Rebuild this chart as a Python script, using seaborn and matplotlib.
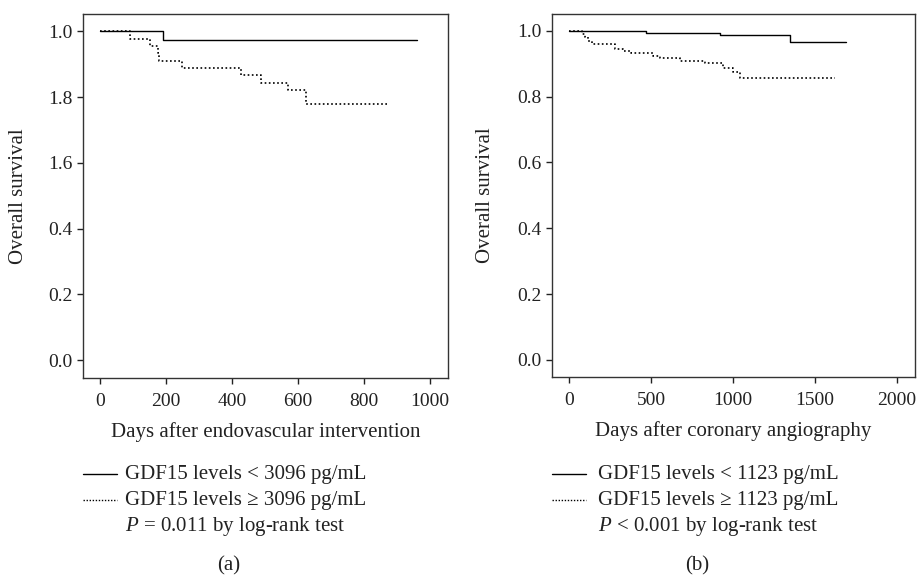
import matplotlib
matplotlib.use("Agg")
import matplotlib.pyplot as plt
import seaborn as sns
import pandas as pd
from matplotlib.lines import Line2D

# ---------------- data ----------------
# Panel (a): days after endovascular intervention
a_low_days = [0, 190, 962]
a_low_surv = [1.0, 0.975, 0.975]
a_high_days = [0, 90, 152, 175, 180, 249, 427, 488, 569, 623, 876]
a_high_surv = [1.0, 0.978, 0.956, 0.933, 0.911, 0.889, 0.866, 0.844, 0.821, 0.780, 0.780]

# Panel (b): days after coronary angiography
b_low_days = [0, 117, 467, 920, 1346, 1692]
b_low_surv = [1.0, 0.998, 0.994, 0.987, 0.966, 0.966]
b_high_days = [0, 75, 95, 115, 136, 279, 330, 380, 512, 553, 676, 829, 940, 1000, 1042, 1623]
b_high_surv = [1.0, 0.99, 0.98, 0.97, 0.960, 0.946, 0.938, 0.934, 0.924, 0.917, 0.909,
               0.903, 0.887, 0.875, 0.856, 0.856]

a_yticks = [0.0, 0.2, 0.4, 0.6, 0.8, 1.0]
a_yticklabels = ["0.0", "0.2", "0.4", "1.6", "1.8", "1.0"]
b_yticks = [0.0, 0.2, 0.4, 0.6, 0.8, 1.0]
b_yticklabels = ["0.0", "0.2", "0.4", "0.6", "0.8", "1.0"]
a_xticks = [0, 200, 400, 600, 800, 1000]
b_xticks = [0, 500, 1000, 1500, 2000]

a_legend = ["GDF15 levels < 3096 pg/mL", "GDF15 levels \u2265 3096 pg/mL"]
b_legend = ["GDF15 levels < 1123 pg/mL", "GDF15 levels \u2265 1123 pg/mL"]
a_p = "= 0.011 by log-rank test"
b_p = "< 0.001 by log-rank test"

# ---------------- style ----------------
sns.set_theme(style="ticks")
plt.rcParams["font.family"] = ["Liberation Serif", "DejaVu Serif"]
plt.rcParams["mathtext.fontset"] = "custom"
plt.rcParams["mathtext.it"] = "Liberation Serif:italic"
plt.rcParams["mathtext.rm"] = "Liberation Serif"

FS_TICK = 14
FS = 15
TXT = "#222222"
W, H = 920, 575
fig = plt.figure(figsize=(9.2, 5.75), dpi=100)

def fx(px):
    return px / W

def fy(py):
    return 1 - py / H

ax_a = fig.add_axes([fx(83), fy(378), fx(448) - fx(83), fy(14) - fy(378)])
ax_b = fig.add_axes([fx(551.7), fy(377), fx(915) - fx(551.7), fy(14) - fy(377)])

solid_kw = dict(color="black", linewidth=1.0, linestyle="-")
dot_kw = dict(color="black", linewidth=1.2, linestyle=(0, (1.0, 1.5)))

def draw(ax, days, surv, kw):
    df = pd.DataFrame({"days": days, "surv": surv})
    sns.lineplot(data=df, x="days", y="surv", ax=ax, estimator=None, sort=False,
                 drawstyle="steps-post", **kw)

draw(ax_a, a_high_days, a_high_surv, dot_kw)
draw(ax_a, a_low_days, a_low_surv, solid_kw)
draw(ax_b, b_high_days, b_high_surv, dot_kw)
draw(ax_b, b_low_days, b_low_surv, solid_kw)

ax_a.set_xlim(-51.5, 1054.5)
ax_a.set_ylim(-0.054, 1.053)
ax_b.set_xlim(-107.5, 2112)
ax_b.set_ylim(-0.052, 1.051)

ax_a.set_xticks(a_xticks)
ax_a.set_xticklabels([str(t) for t in a_xticks])
ax_a.set_yticks(a_yticks)
ax_a.set_yticklabels(a_yticklabels)
ax_b.set_xticks(b_xticks)
ax_b.set_xticklabels([str(t) for t in b_xticks])
ax_b.set_yticks(b_yticks)
ax_b.set_yticklabels(b_yticklabels)

for ax, xl in [(ax_a, "Days after endovascular intervention"),
               (ax_b, "Days after coronary angiography")]:
    for s in ax.spines.values():
        s.set_visible(True)
        s.set_linewidth(1.0)
        s.set_color("#333333")
    ax.tick_params(axis="both", direction="out", length=4.5, width=1.0,
                   labelsize=FS_TICK, colors=TXT)
    ax.tick_params(axis="x", pad=6)
    ax.tick_params(axis="y", pad=3)
    ax.set_xlabel(xl, fontsize=FS, labelpad=9, color=TXT)
    ax.set_ylabel("Overall survival", fontsize=FS, color=TXT)

ax_a.yaxis.set_label_coords(-(83 - 28) / (448 - 83), 0.5)
ax_b.yaxis.set_label_coords(-(551.7 - 495) / (915 - 551.7), 0.5)

# ---------------- legends ----------------
def legend(x0, x1, xt, labels, ptxt, panel, xc):
    ys = [474, 500, 526.7]
    fig.add_artist(Line2D([fx(x0), fx(x1)], [fy(ys[0]), fy(ys[0])], transform=fig.transFigure, **solid_kw))
    fig.add_artist(Line2D([fx(x0), fx(x1)], [fy(ys[1]), fy(ys[1])], transform=fig.transFigure,
                          color="black", linewidth=1.0, linestyle=(0, (1.0, 1.2))))
    fig.text(fx(xt), fy(ys[0]), labels[0], fontsize=FS, va="center", ha="left", color=TXT)
    fig.text(fx(xt), fy(ys[1]), labels[1], fontsize=FS, va="center", ha="left", color=TXT)
    fig.text(fx(xt), fy(ys[2]), r"$\mathit{P}$ " + ptxt, fontsize=FS, va="center", ha="left", color=TXT)
    fig.text(fx(xc), fy(566), panel, fontsize=FS, va="center", ha="center", color=TXT)

legend(83, 117, 125, a_legend, a_p, "(a)", 229)
legend(552, 586, 598, b_legend, b_p, "(b)", 697)

fig.savefig("out.png", dpi=100)
